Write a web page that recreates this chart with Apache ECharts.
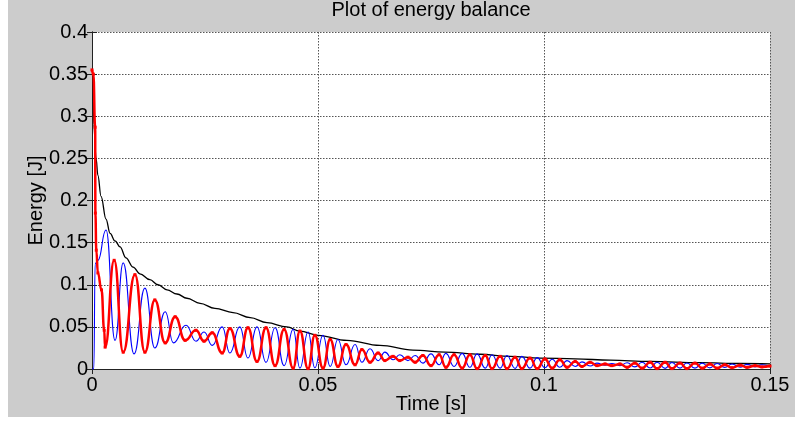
<!DOCTYPE html>
<html>
<head>
<meta charset="utf-8">
<script src="https://cdn.jsdelivr.net/npm/echarts@6/dist/echarts.min.js"></script>
<style>
  html, body { margin: 0; padding: 0; background: #fff; }
  #wrap { position: relative; width: 795px; height: 421px; background: #fff; }
  #figure { position: absolute; left: 8px; top: 0; width: 787px; height: 417px; background: #cccccc; }
  #chart { position: absolute; left: 0; top: 0; width: 795px; height: 421px; }
</style>
</head>
<body>
<div id="wrap">
  <div id="figure"></div>
  <div id="chart"></div>
</div>
<script>
// energy balance: total (black), kinetic (blue), potential (red)
const xTickLabels = ["0", "0.05", "0.1", "0.15"];
const yTickLabels = ["0", "0.05", "0.1", "0.15", "0.2", "0.25", "0.3", "0.35", "0.4"];

const totalEnergy = [
  [0, 0.355], [0.0002, 0.352], [0.0004, 0.29], [0.0009, 0.25], [0.0013, 0.23], [0.002, 0.205],
  [0.0031, 0.178], [0.004, 0.161], [0.0051, 0.152], [0.0062, 0.145], [0.0075, 0.132], [0.0091, 0.121],
  [0.0106, 0.113], [0.0128, 0.106], [0.0146, 0.1], [0.0166, 0.094], [0.0188, 0.089], [0.021, 0.084],
  [0.0239, 0.078], [0.0272, 0.072], [0.0312, 0.067], [0.035, 0.061], [0.0387, 0.055], [0.0431, 0.05],
  [0.046, 0.045], [0.05, 0.04], [0.0564, 0.034], [0.0637, 0.028], [0.071, 0.0225], [0.0781, 0.02],
  [0.0858, 0.0175], [0.0925, 0.015], [0.0991, 0.013], [0.1069, 0.012], [0.1146, 0.0105], [0.1235, 0.009],
  [0.1345, 0.0075], [0.1434, 0.0065], [0.15, 0.006]
];

const kineticEnergy = [
  [0, 0], [0.0004, 0], [0.0007, 0.125], [0.0013, 0.129], [0.0031, 0.165], [0.0051, 0.034],
  [0.0069, 0.126], [0.0093, 0.018], [0.0117, 0.096], [0.0139, 0.025], [0.0162, 0.068], [0.018, 0.031],
  [0.0208, 0.052], [0.023, 0.033], [0.0248, 0.044], [0.0266, 0.028],
  [0.0288, 0.05], [0.0305, 0.019], [0.0327, 0.05], [0.0345, 0.013], [0.0365, 0.05], [0.0385, 0.008],
  [0.0405, 0.049], [0.0425, 0.004], [0.0445, 0.047], [0.046, 0.001], [0.0478, 0.044], [0.0493, 0.0015],
  [0.0511, 0.04], [0.0527, 0.003], [0.0544, 0.035], [0.0562, 0.005], [0.0582, 0.029], [0.0597, 0.008],
  [0.0615, 0.024], [0.0633, 0.01], [0.0648, 0.02], [0.0666, 0.011], [0.0681, 0.017], [0.0699, 0.01],
  [0.0715, 0.016], [0.0732, 0.007], [0.075, 0.018], [0.0768, 0.005], [0.0783, 0.0185], [0.0801, 0.003],
  [0.0819, 0.0185], [0.0836, 0.002], [0.0852, 0.018], [0.087, 0.001], [0.0885, 0.017], [0.0903, 0.001],
  [0.0918, 0.016], [0.0936, 0.0008], [0.0951, 0.015], [0.0969, 0.001], [0.0985, 0.0135], [0.1002, 0.0015],
  [0.1018, 0.0115], [0.1035, 0.002], [0.1051, 0.01], [0.1069, 0.003], [0.1084, 0.0085], [0.1102, 0.0035],
  [0.1117, 0.007], [0.1135, 0.0045], [0.115, 0.0065], [0.1168, 0.004], [0.1184, 0.0075], [0.1201, 0.0025],
  [0.1217, 0.008], [0.1235, 0.0012], [0.125, 0.008], [0.1268, 0.0008], [0.1283, 0.0078], [0.1301, 0.001],
  [0.1316, 0.0072], [0.1334, 0.001], [0.135, 0.007], [0.1367, 0.0013], [0.1383, 0.0065], [0.14, 0.0018],
  [0.1416, 0.006], [0.1434, 0.002], [0.1449, 0.0055], [0.1467, 0.0025], [0.1482, 0.005], [0.15, 0.003]
];

const potentialEnergy = [
  [0, 0.355], [0.0003, 0.35], [0.0007, 0.287], [0.00075, 0.185], [0.00095, 0.141], [0.0013, 0.114],
  [0.0021, 0.094], [0.0027, 0.046], [0.0029, 0.026], [0.0049, 0.129], [0.0069, 0.02], [0.0095, 0.112],
  [0.0117, 0.02], [0.0139, 0.082], [0.0162, 0.031], [0.0184, 0.062], [0.0206, 0.034], [0.023, 0.046],
  [0.0248, 0.033], [0.0266, 0.043],
  [0.0288, 0.019], [0.0305, 0.048], [0.0327, 0.015], [0.0345, 0.049], [0.0365, 0.009], [0.0385, 0.049],
  [0.0405, 0.004], [0.0425, 0.047], [0.0445, 0.001], [0.046, 0.045], [0.0478, 0.0005], [0.0493, 0.04],
  [0.0511, 0.001], [0.0527, 0.035], [0.0544, 0.003], [0.0562, 0.029], [0.0582, 0.005], [0.0597, 0.023],
  [0.0615, 0.008], [0.0633, 0.019], [0.0648, 0.01], [0.0666, 0.015], [0.0681, 0.01], [0.0699, 0.014],
  [0.0715, 0.008], [0.0732, 0.016], [0.075, 0.004], [0.0768, 0.017], [0.0783, 0.002], [0.0801, 0.017],
  [0.0819, 0.001], [0.0836, 0.017], [0.0852, 0.0005], [0.087, 0.016], [0.0885, 0.0005], [0.0903, 0.015],
  [0.0918, 0.0005], [0.0936, 0.014], [0.0951, 0.0005], [0.0969, 0.013], [0.0985, 0.0005], [0.1002, 0.012],
  [0.1018, 0.001], [0.1035, 0.011], [0.1051, 0.002], [0.1069, 0.009], [0.1084, 0.003], [0.1102, 0.008],
  [0.1117, 0.004], [0.1135, 0.006], [0.115, 0.004], [0.1168, 0.006], [0.1184, 0.002], [0.1201, 0.007],
  [0.1217, 0.001], [0.1235, 0.008], [0.125, 0.0005], [0.1268, 0.008], [0.1283, 0.0005], [0.1301, 0.007],
  [0.1316, 0.0005], [0.1334, 0.007], [0.135, 0.001], [0.1367, 0.006], [0.1383, 0.001], [0.14, 0.005],
  [0.1416, 0.0015], [0.1434, 0.0045], [0.1449, 0.002], [0.1467, 0.004], [0.1482, 0.0025], [0.15, 0.0035]
];

const chart = echarts.init(document.getElementById("chart"));
const font = "'Liberation Sans', Arial, sans-serif";
const gridLine = { show: true, lineStyle: { color: "#555", width: 1, type: [1.5, 1.5] } };
const frameLine = { show: true, lineStyle: { color: "#222", width: 1 } };
const innerTick = { show: true, inside: true, length: 5, lineStyle: { color: "#222" } };

const option = {
  animation: false,
  textStyle: { fontFamily: font },
  title: {
    text: "Plot of energy balance",
    left: 431,
    top: 0,
    padding: 0,
    textAlign: "center",
    textStyle: { fontFamily: font, fontSize: 20, fontWeight: "normal", color: "#000" }
  },
  grid: { left: 92, right: 25, top: 32, bottom: 52, show: true, backgroundColor: "#fff", borderWidth: 0 },
  xAxis: [
    {
      type: "value",
      min: 0,
      max: 0.15,
      interval: 0.05,
      name: "Time [s]",
      nameLocation: "middle",
      nameGap: 25,
      nameMoveOverlap: false,
      nameTextStyle: { fontFamily: font, fontSize: 20, color: "#000" },
      axisLine: frameLine,
      axisTick: innerTick,
      splitLine: gridLine,
      axisLabel: {
        margin: 6,
        fontSize: 20,
        color: "#000",
        fontFamily: font,
        formatter: (v) => xTickLabels[Math.round(v / 0.05)]
      }
    },
    {
      type: "value",
      position: "top",
      min: 0,
      max: 0.15,
      interval: 0.05,
      axisLine: frameLine,
      axisTick: innerTick,
      splitLine: { show: false },
      axisLabel: { show: false }
    }
  ],
  yAxis: [
    {
      type: "value",
      min: 0,
      max: 0.4,
      interval: 0.05,
      name: "Energy [J]",
      nameLocation: "middle",
      nameGap: 46,
      nameMoveOverlap: false,
      nameTextStyle: { fontFamily: font, fontSize: 20, color: "#000" },
      axisLine: frameLine,
      axisTick: innerTick,
      splitLine: gridLine,
      axisLabel: {
        margin: 4,
        fontSize: 20,
        color: "#000",
        fontFamily: font,
        formatter: (v) => yTickLabels[Math.round(v / 0.05)]
      }
    },
    {
      type: "value",
      position: "right",
      min: 0,
      max: 0.4,
      interval: 0.05,
      axisLine: frameLine,
      axisTick: innerTick,
      splitLine: { show: false },
      axisLabel: { show: false }
    }
  ],
  series: [
    {
      name: "Total",
      type: "line",
      data: totalEnergy,
      smooth: 0.4,
      smoothMonotone: "x",
      showSymbol: false,
      lineStyle: { color: "#000", width: 1.3 }
    },
    {
      name: "Kinetic",
      type: "line",
      data: kineticEnergy,
      smooth: 0.5,
      smoothMonotone: "x",
      showSymbol: false,
      lineStyle: { color: "#0000ff", width: 1.1 }
    },
    {
      name: "Potential",
      type: "line",
      data: potentialEnergy,
      smooth: 0.5,
      smoothMonotone: "x",
      showSymbol: true,
      symbol: "rect",
      symbolSize: 3,
      itemStyle: { color: "#ff0000" },
      lineStyle: { color: "#ff0000", width: 2.5 }
    }
  ]
};

chart.setOption(option);
</script>
</body>
</html>
